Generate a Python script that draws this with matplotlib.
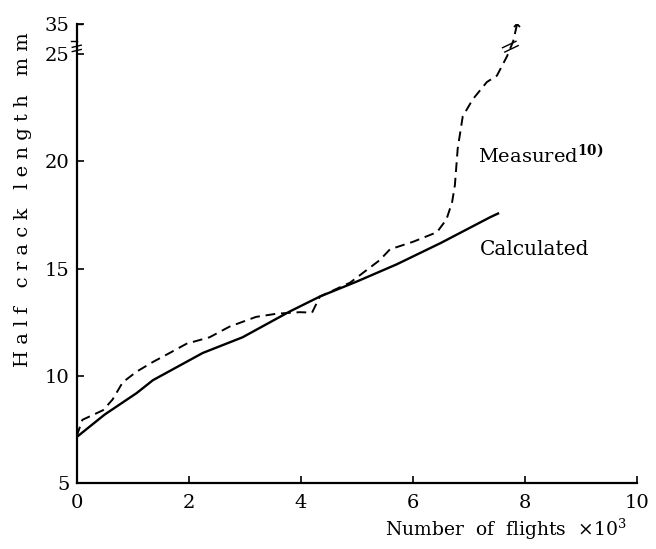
import matplotlib
matplotlib.use("Agg")
import matplotlib.pyplot as plt

# values (x in 10^3 flights, y in mm; points above 25 are
# in the compressed part of the broken axis, drawn so that 26.4 sits at "35")
calc_x = [0.0, 0.5, 1.07, 1.36, 2.25, 2.96, 3.8, 4.34, 5.0, 5.71, 6.5, 7.38, 7.52]
calc_y = [7.15, 8.2, 9.2, 9.8, 11.07, 11.8, 13.0, 13.7, 14.4, 15.2, 16.2, 17.4, 17.57]

meas_x = [0.0, 0.1, 0.47, 0.64, 0.82, 1.07, 1.36, 1.66, 1.96, 2.37, 2.73, 3.2,
          3.57, 3.98, 4.2, 4.34, 4.88, 5.41, 5.59, 6.0, 6.43, 6.6, 6.7, 6.75,
          6.8, 6.89, 7.07, 7.32, 7.5, 7.68, 7.79, 7.86]
meas_y = [7.2, 7.95, 8.4, 8.9, 9.7, 10.2, 10.65, 11.07, 11.5, 11.8, 12.3, 12.75,
          12.9, 12.97, 12.95, 13.7, 14.35, 15.4, 15.9, 16.25, 16.7, 17.3, 18.1,
          18.9, 20.6, 22.1, 22.9, 23.7, 24.0, 24.9, 25.6, 26.4]

x_ticks = [0, 2, 4, 6, 8, 10]
y_ticks = [5, 10, 15, 20, 25, 26.4]
y_tick_labels = ["5", "10", "15", "20", "25", "35"]

plt.rcParams["font.family"] = ["DejaVu Serif"]
plt.rcParams["mathtext.fontset"] = "dejavuserif"

fig = plt.figure(figsize=(6.56, 5.49), dpi=100)
ax = fig.add_axes([0.117, 0.12, 0.854, 0.836])

ax.plot(calc_x, calc_y, color="black", linewidth=1.7)
ax.plot(meas_x, meas_y, color="black", linewidth=1.4, dashes=(5, 3))
ax.plot([meas_x[-1]], [meas_y[-1]], marker="x", color="black",
        markersize=4, markeredgewidth=1.3)

# break marks on the measured curve
ax.plot([7.6, 7.84], [25.3, 25.6], color="black", linewidth=1.0)
ax.plot([7.64, 7.88], [25.1, 25.4], color="black", linewidth=1.0)

ax.set_xlim(0, 10)
ax.set_ylim(5, 26.4)
ax.set_xticks(x_ticks)
ax.set_yticks(y_ticks)
ax.set_yticklabels(y_tick_labels)

for side in ["top", "right"]:
    ax.spines[side].set_visible(False)
for side in ["left", "bottom"]:
    ax.spines[side].set_linewidth(1.6)

ax.tick_params(direction="in", length=5, width=1.2, labelsize=14, pad=5)
ax.tick_params(axis="x", pad=8)

# break marks on the y axis
ax.plot([-0.08, 0.08], [25.12, 25.22], color="black", linewidth=1.0,
        clip_on=False)
ax.plot([-0.08, 0.08], [25.32, 25.42], color="black", linewidth=1.0,
        clip_on=False)
ax.plot([0.0, 0.1], [26.4, 26.4], color="black", linewidth=1.0, clip_on=False)
ax.plot([-0.1, 0.0], [25.6, 25.6], color="black", linewidth=1.0, clip_on=False)

ax.text(7.16, 20.3, "Measured$^{\\mathbf{10)}}$", fontsize=14,
        va="center", ha="left")
ax.text(7.2, 15.9, "Calculated", fontsize=14.5, va="center", ha="left")

fig.text(0.771, 0.035, "Number  of  flights  \u00d710$^3$", fontsize=13.5,
         ha="center", va="center")
fig.text(0.035, 0.637, "H a l f   c r a c k   l e n g t h   m m", fontsize=14,
         rotation=90, ha="center", va="center")

fig.savefig("out.png", dpi=100)
